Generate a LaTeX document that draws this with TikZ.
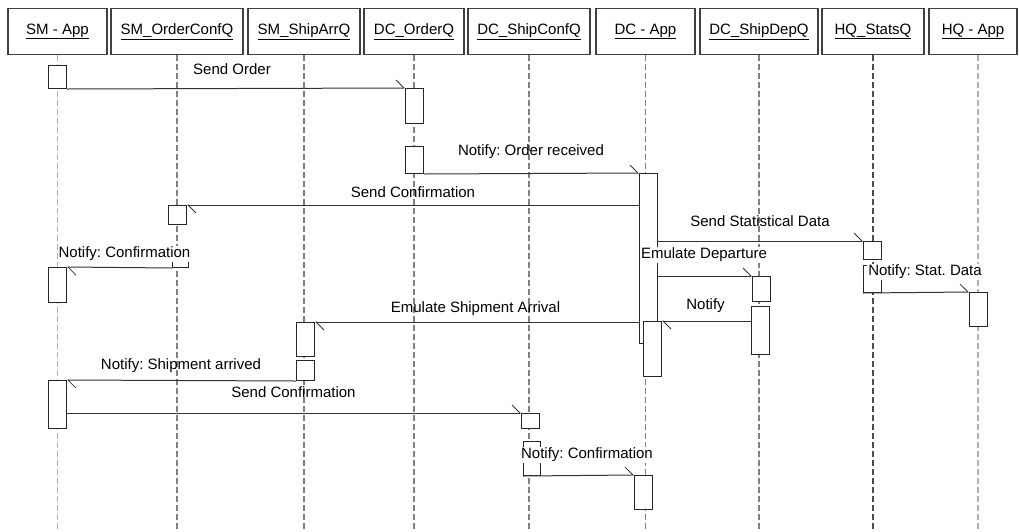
\documentclass[tikz,border=0pt]{standalone}
\usepackage{fontspec}
\setmainfont{Liberation Sans}
\usetikzlibrary{arrows.meta}
\frenchspacing

\begin{document}
\begin{tikzpicture}[
        x=1pt, y=-1pt,
        font=\fontsize{15}{18}\selectfont,
        head/.style={rectangle, draw=black!75, line width=1.2pt, fill=white,
            minimum height=46pt, inner sep=2pt},
        life/.style={line width=1.2pt, dash pattern=on 6pt off 3pt},
        act/.style={rectangle, draw=black!85, line width=1pt, fill=white,
            anchor=north west, minimum width=18pt, inner sep=0pt},
        msg/.style={draw=black!80, line width=1pt,
            -{Straight Barb[left, length=8pt, width=16pt, line width=0.8pt]}},
        lbl/.style={inner sep=1pt},
        lblw/.style={lbl, fill=white}
    ]
        \useasboundingbox (0,0) rectangle (1019,531);
        \coordinate (bottom) at (0,531);

        \node[head, minimum width=99pt] (smapp) at (57.5,31.5) {\underline{SM - App}};
        \node[head, minimum width=132pt] (smocq) at (177,31.5) {\underline{SM\_OrderConfQ}};
        \node[head, minimum width=112pt] (smsaq) at (304,31.5) {\underline{SM\_ShipArrQ}};
        \node[head, minimum width=100pt] (dcoq) at (414,31.5) {\underline{DC\_OrderQ}};
        \node[head, minimum width=122pt] (dcscq) at (529,31.5) {\underline{DC\_ShipConfQ}};
        \node[head, minimum width=99pt] (dcapp) at (645.5,31.5) {\underline{DC - App}};
        \node[head, minimum width=118pt] (dcsdq) at (759,31.5) {\underline{DC\_ShipDepQ}};
        \node[head, minimum width=102pt] (hqsq) at (873,31.5) {\underline{HQ\_StatsQ}};
        \node[head, minimum width=88pt] (hqapp) at (973,31.5) {\underline{HQ - App}};

        \draw[life, gray!60] (smapp.south) -- (smapp.south |- bottom);
        \draw[life, gray] (smocq.south) -- (smocq.south |- bottom);
        \draw[life, gray] (smsaq.south) -- (smsaq.south |- bottom);
        \draw[life, gray] (dcoq.south) -- (dcoq.south |- bottom);
        \draw[life, gray] (dcscq.south) -- (dcscq.south |- bottom);
        \draw[life, gray] (dcapp.south) -- (dcapp.south |- bottom);
        \draw[life, gray] (dcsdq.south) -- (dcsdq.south |- bottom);
        \draw[life, black!70] (hqsq.south) -- (hqsq.south |- bottom);
        \draw[life, gray!60] ([xshift=5pt]hqapp.south) -- ([xshift=5pt]hqapp.south |- bottom);

        \node[act, minimum height=23pt] (sm1) at (48,65) {};
        \node[act, minimum height=35pt] (oq1) at (405,88) {};
        \node[act, minimum height=27pt] (oq2) at (405,146) {};
        \node[act, minimum height=170pt] (dc1) at (639,173) {};
        \node[act, minimum height=19pt] (oc1) at (168,205) {};
        \node[act, minimum width=16pt, minimum height=21pt] (oc2) at (172,246) {};
        \node[act, minimum height=35pt] (sm2) at (48,267) {};
        \node[act, minimum height=18pt] (sq1) at (863,241) {};
        \node[act, minimum height=25pt] (dq1) at (752,276) {};
        \node[act, minimum height=48pt] (dq2) at (751,306) {};
        \node[act, minimum height=55pt] (dc2) at (643,321) {};
        \node[act, minimum height=27pt] (sq2) at (863,265) {};
        \node[act, minimum height=34pt] (ha1) at (969,292) {};
        \node[act, minimum height=34pt] (ar1) at (296,322) {};
        \node[act, minimum height=20pt] (ar2) at (296,360) {};
        \node[act, minimum height=48pt] (sm3) at (48,380) {};
        \node[act, minimum height=15pt] (sc1) at (521,413) {};
        \node[act, minimum width=17pt, minimum height=34pt] (sc2) at (523,441) {};
        \node[act, minimum height=34pt] (dc3) at (634,475) {};

        \draw[msg] (sm1.south east) -- (oq1.north west);
        \draw[msg] (oq2.south east) -- (dc1.north west);
        \draw[msg] (dc1.west |- oc1.north) -- (oc1.north east);
        \draw[msg] (oc2.south west) -- (sm2.north east);
        \draw[msg] (dc1.east |- sq1.north) -- (sq1.north west);
        \draw[msg] (dc1.east |- dq1.north) -- (dq1.north west);
        \draw[msg] (dq2.west |- dc2.north) -- (dc2.north east);
        \draw[msg] (sq2.south west) -- (ha1.north west);
        \draw[msg] (dc1.west |- ar1.north) -- (ar1.north east);
        \draw[msg] (ar2.south west) -- (sm3.north east);
        \draw[msg] (sm3.east |- sc1.north) -- (sc1.north west);
        \draw[msg] (sc2.south west) -- (dc3.north west);

        \node[lbl] (l1) at (232,69) {Send Order};
        \node[lbl] (l2) at (531,152) {Notify: Order received};
        \node[lbl] (l3) at (413,192.5) {Send Confirmation};
        \node[lblw] (l4) at (124.5,254) {Notify: Confirmation};
        \node[lbl] (l5) at (760,221) {Send Statistical Data};
        \node[lblw] (l6) at (704,255) {Emulate Departure};
        \node[lbl] (l7) at (705.5,306) {Notify};
        \node[lblw] (l8) at (925,272) {Notify: Stat. Data};
        \node[lbl] (l9) at (475.5,309) {Emulate Shipment Arrival};
        \node[lbl] (l10) at (181,366) {Notify: Shipment arrived};
        \node[lbl] (l11) at (293.5,392.5) {Send Confirmation};
        \node[lblw] (l12) at (587,454.5) {Notify: Confirmation};
    \end{tikzpicture}
\end{document}
